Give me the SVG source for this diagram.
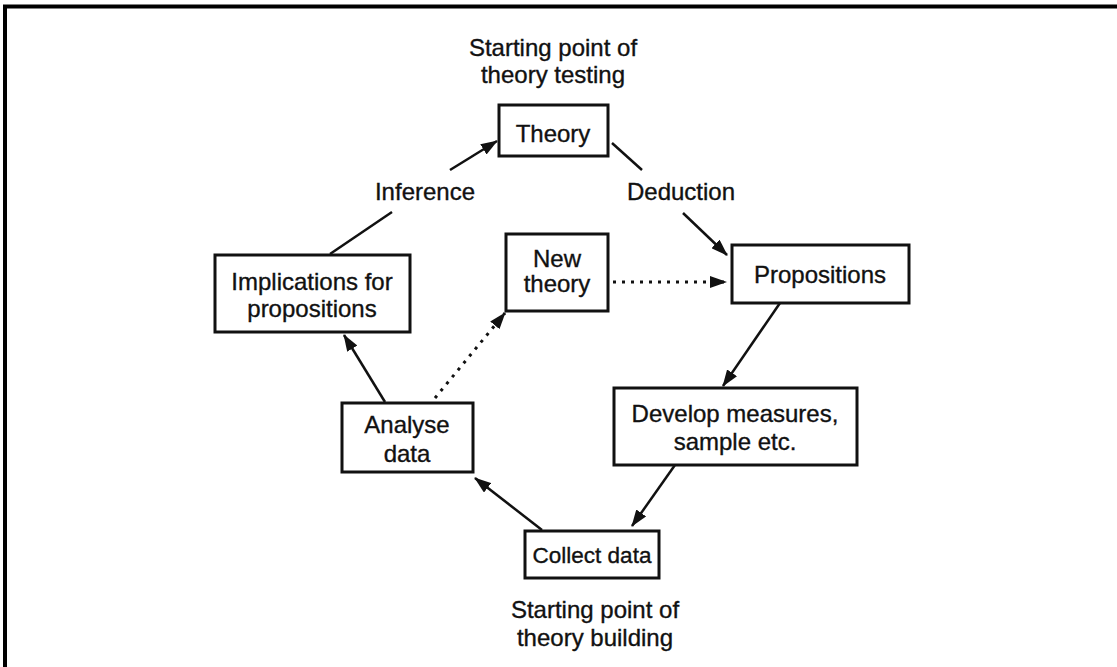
<svg xmlns="http://www.w3.org/2000/svg" width="1117" height="667" viewBox="0 0 1117 667">
<style>
.box{fill:#fff;stroke:#111;stroke-width:3}
.t{font-family:"Liberation Sans",Arial,sans-serif;font-size:24px;fill:#111;stroke:#111;stroke-width:0.35;text-anchor:middle}
.c{stroke:#111;stroke-width:2.5;fill:none}
.d{stroke:#111;stroke-width:3;fill:none;stroke-dasharray:3 6}
</style>
<defs>
<marker id="ah" markerUnits="userSpaceOnUse" markerWidth="18" markerHeight="12" refX="16" refY="6" orient="auto">
<path d="M0,0 L17,6 L0,12 Z" fill="#111"/>
</marker>
</defs>
<rect width="1117" height="667" fill="#fff"/>
<path d="M5,667 V6.5 H1117" fill="none" stroke="#000" stroke-width="4"/>
<g id="connectors">
<line class="c" x1="330" y1="254" x2="392" y2="212"/>
<line class="c" x1="450" y1="170" x2="497" y2="141" marker-end="url(#ah)"/>
<line class="c" x1="612" y1="143" x2="642" y2="170"/>
<line class="c" x1="683" y1="213" x2="727" y2="255" marker-end="url(#ah)"/>
<line class="c" x1="780" y1="303" x2="723" y2="386" marker-end="url(#ah)"/>
<line class="c" x1="675" y1="465" x2="632" y2="526" marker-end="url(#ah)"/>
<line class="c" x1="542" y1="530" x2="475" y2="478" marker-end="url(#ah)"/>
<line class="c" x1="385" y1="402" x2="344" y2="335" marker-end="url(#ah)"/>
<line class="d" x1="435" y1="398" x2="505" y2="313" marker-end="url(#ah)"/>
<line class="d" x1="613" y1="282" x2="726" y2="282" marker-end="url(#ah)"/>
<text class="t" x="425" y="200">Inference</text>
<text class="t" x="681" y="200">Deduction</text>
</g>
<g id="label-top">
<text class="t" x="553" y="56">Starting point of</text>
<text class="t" x="553" y="83">theory testing</text>
</g>
<g id="theory">
<rect class="box" x="499" y="105" width="109" height="51"/>
<text class="t" x="553" y="142">Theory</text>
</g>
<g id="implications">
<rect class="box" x="215" y="255" width="195" height="77"/>
<text class="t" x="312" y="290">Implications for</text>
<text class="t" x="312" y="317">propositions</text>
</g>
<g id="new-theory">
<rect class="box" x="506" y="234" width="102" height="77"/>
<text class="t" x="557" y="267">New</text>
<text class="t" x="557" y="292">theory</text>
</g>
<g id="propositions">
<rect class="box" x="732" y="245" width="177" height="58"/>
<text class="t" x="820" y="283">Propositions</text>
</g>
<g id="develop">
<rect class="box" x="614" y="388" width="243" height="77"/>
<text class="t" x="735" y="422">Develop measures,</text>
<text class="t" x="735" y="450">sample etc.</text>
</g>
<g id="analyse">
<rect class="box" x="342" y="403" width="131" height="69"/>
<text class="t" x="407" y="433">Analyse</text>
<text class="t" x="407" y="462">data</text>
</g>
<g id="collect">
<rect class="box" x="525" y="531" width="134" height="47"/>
<text class="t" x="592" y="563" style="font-size:22.5px">Collect data</text>
</g>
<g id="label-bottom">
<text class="t" x="595" y="618">Starting point of</text>
<text class="t" x="595" y="646">theory building</text>
</g>
</svg>
